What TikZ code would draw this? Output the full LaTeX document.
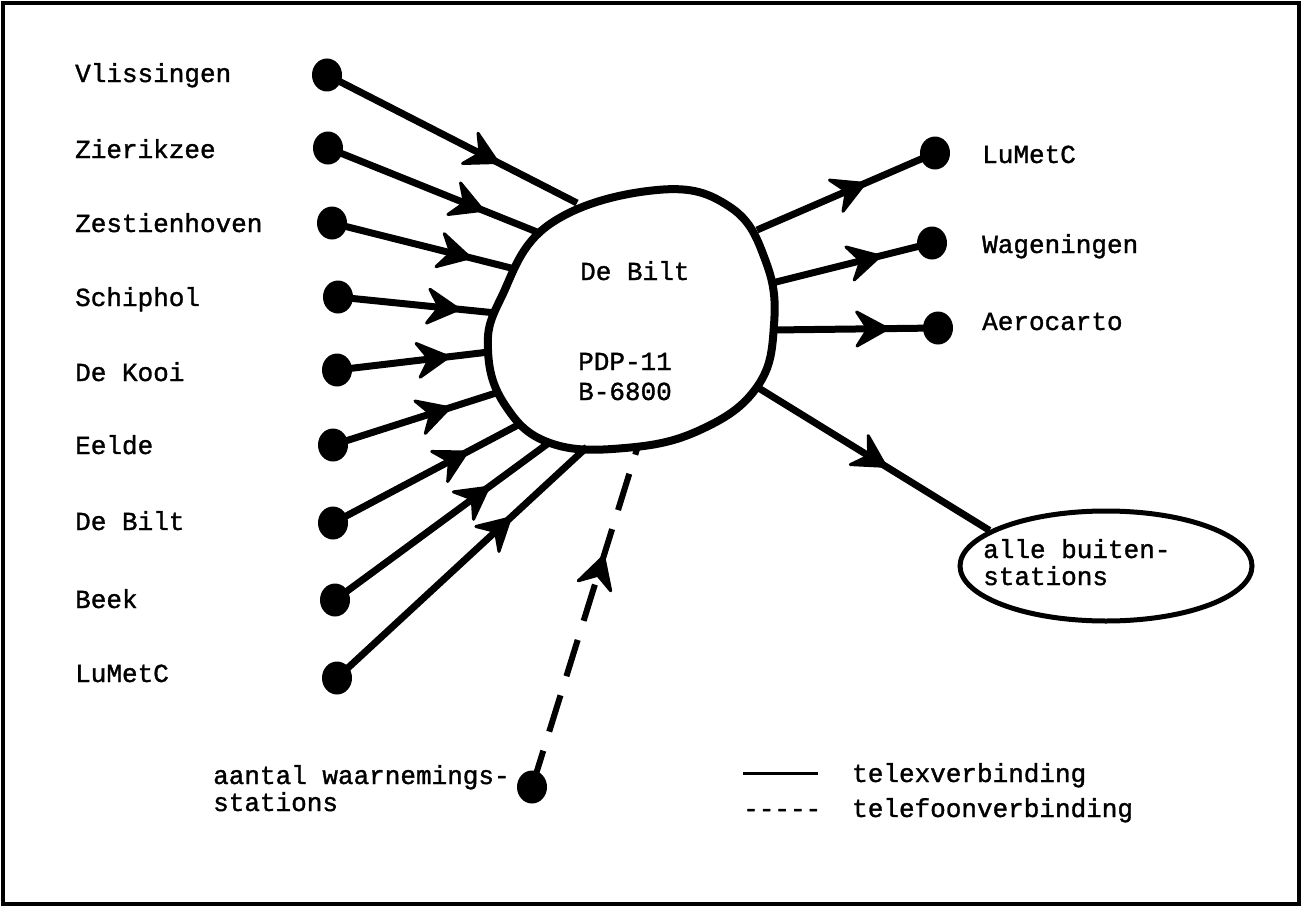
\documentclass[tikz,border=0pt]{standalone}
\usepackage{fontspec}
\setmainfont{Liberation Mono}[BoldFont={Liberation Mono}, BoldFeatures={FakeBold=1.3}]
\usetikzlibrary{decorations.markings,shapes.geometric}
\begin{document}
\begin{tikzpicture}[x=1pt,y=-1pt,
  lbl/.style={anchor=base west, inner sep=0pt, font=\fontsize{26}{27}\selectfont\bfseries},
  dot/.style={ellipse, fill=black, minimum width=30pt, minimum height=33pt, inner sep=0pt},
  link/.style={line width=7pt},
  midarrow/.style={postaction={decorate}, decoration={markings,
      mark=at position #1 with {\filldraw[solid, line width=3pt, line join=round]
        (1pt,0pt) -- (-30pt,17pt) -- (-19pt,0pt) -- (-30pt,-17pt) -- cycle;}}},
  phone/.style={line width=6pt, dash pattern=on 38pt off 20pt},
  ]
\useasboundingbox (0,0) rectangle (1302,907);
% frame
\draw[line width=4pt] (3,3) rectangle (1299,904);

% central computer (irregular outline)
\draw[line width=8pt] plot[smooth cycle, tension=0.7] coordinates {
  (657,190) (730,207) (766,262) (774,325) (757,387) (700,430) (625,448)
  (550,443) (505,405) (488,350) (501,298) (550,224)};
\node[lbl] (cname) at (580,280) {De Bilt};
\node[lbl] (cpdp) at (578,370) {PDP-11};
\node[lbl] (cbur) at (578,400) {B-6800};

% points where the links meet the outline
\coordinate (bVl) at (577,203);
\coordinate (bZi) at (542,234);
\coordinate (bZh) at (515,269);
\coordinate (bSc) at (496,313);
\coordinate (bDK) at (489,352);
\coordinate (bEe) at (496,393);
\coordinate (bDB) at (518,425);
\coordinate (bBe) at (550,442);
\coordinate (bLu) at (587,447);
\coordinate (bR1) at (757,230);
\coordinate (bR2) at (772,283);
\coordinate (bR3) at (773,330);
\coordinate (bR4) at (757,387);
\coordinate (bPh) at (637,449);

% incoming stations
\node[lbl] (tVl) at (75,82)  {Vlissingen};
\node[lbl] (tZi) at (75,158) {Zierikzee};
\node[lbl] (tZh) at (75,232) {Zestienhoven};
\node[lbl] (tSc) at (75,306) {Schiphol};
\node[lbl] (tDK) at (75,381) {De Kooi};
\node[lbl] (tEe) at (75,454) {Eelde};
\node[lbl] (tDB) at (75,530) {De Bilt};
\node[lbl] (tBe) at (75,608) {Beek};
\node[lbl] (tLu) at (75,682) {LuMetC};

\node[dot] (dVl) at (327,75)  {};
\node[dot] (dZi) at (328,148) {};
\node[dot] (dZh) at (332,223) {};
\node[dot] (dSc) at (338,297) {};
\node[dot] (dDK) at (337,370) {};
\node[dot] (dEe) at (333,445) {};
\node[dot] (dDB) at (333,523) {};
\node[dot] (dBe) at (335,600) {};
\node[dot] (dLu) at (337,678) {};

\draw[link, midarrow=0.68] (dVl.center) -- (bVl);
\draw[link, midarrow=0.72] (dZi.center) -- (bZi);
\draw[link, midarrow=0.75] (dZh.center) -- (bZh);
\draw[link, midarrow=0.76] (dSc.center) -- (bSc);
\draw[link, midarrow=0.73] (dDK.center) -- (bDK);
\draw[link, midarrow=0.71] (dEe.center) -- (bEe);
\draw[link, midarrow=0.72] (dDB.center) -- (bDB);
\draw[link, midarrow=0.71] (dBe.center) -- (bBe);
\draw[link, midarrow=0.69] (dLu.center) -- (bLu);

% outgoing links
\node[dot] (oLu) at (935,153) {};
\node[dot] (oWa) at (932,243) {};
\node[dot] (oAe) at (938,328) {};
\node[lbl] (uLu) at (982,163) {LuMetC};
\node[lbl] (uWa) at (982,253) {Wageningen};
\node[lbl] (uAe) at (982,330) {Aerocarto};

\draw[link, midarrow=0.60] (bR1) -- (oLu.center);
\draw[link, midarrow=0.67] (bR2) -- (oWa.center);
\draw[link, midarrow=0.69] (bR3) -- (oAe.center);

\node[ellipse, draw, line width=5pt, minimum width=292pt, minimum height=110pt,
      inner sep=0pt] (buiten) at (1106,566) {};
\node[lbl, align=left] (tbuiten) at (983,585) {alle buiten-\\stations};
\draw[link, midarrow=0.55] (bR4) -- (buiten.163);

% observing stations by telephone
\node[dot] (dPh) at (532,787) {};
\node[lbl, align=left] (tPh) at (213,811) {aantal waarnemings-\\stations};
\draw[phone, midarrow=0.68] (dPh.center) -- (bPh);

% legend
\coordinate (lgA) at (743,773);
\coordinate (lgB) at (818,773);
\draw[line width=3pt] (lgA) -- (lgB);
\node[lbl] (lgTelex) at (852,782) {telexverbinding};
\node[lbl] (lgDash) at (743,817) {-{}-{}-{}-{}-};
\node[lbl] (lgPhone) at (852,817) {telefoonverbinding};
\end{tikzpicture}
\end{document}
